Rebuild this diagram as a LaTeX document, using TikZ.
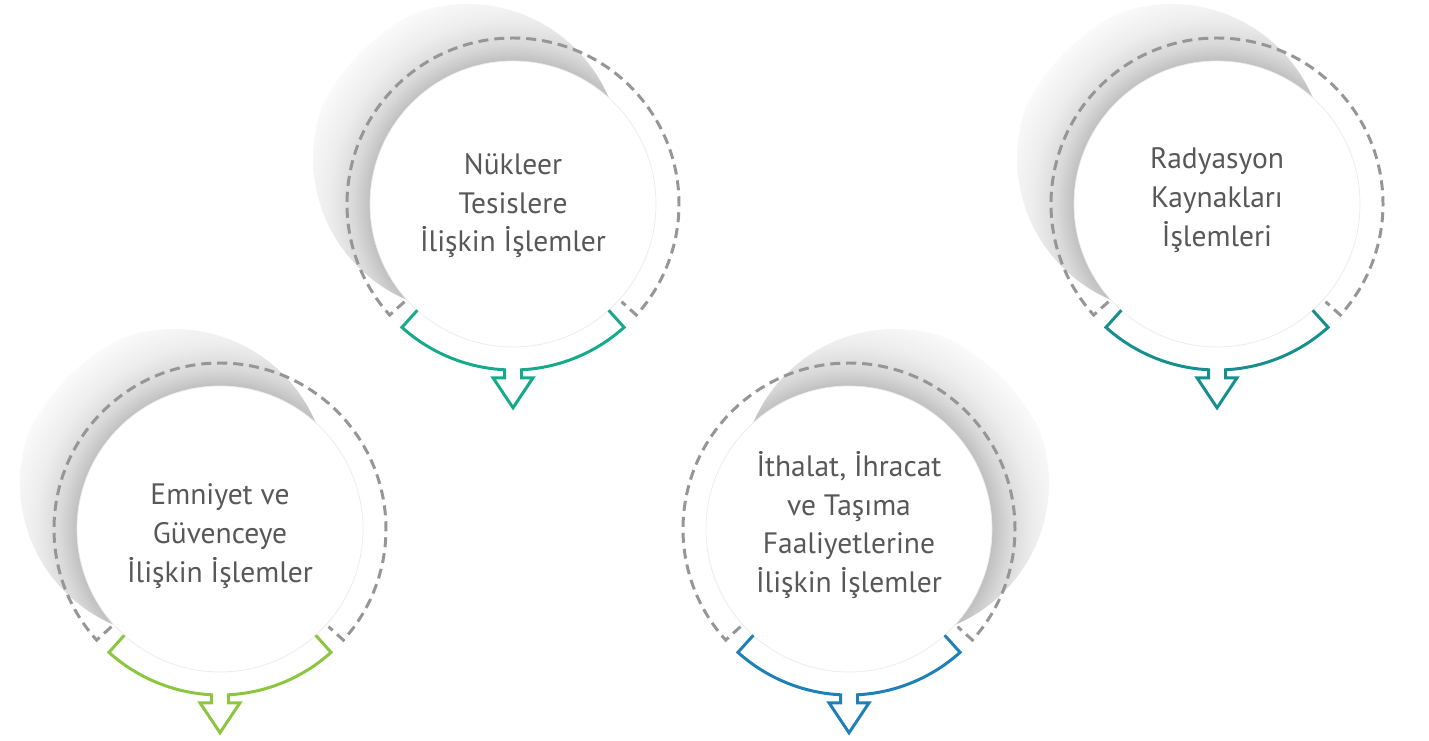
\documentclass[tikz,border=0pt]{standalone}
\usepackage{fontspec}
\setmainfont{PT Sans}
\usepackage{tikz}
\usetikzlibrary{positioning}

\definecolor{nukleerc}{RGB}{22,170,140}
\definecolor{emniyetc}{RGB}{140,198,63}
\definecolor{ithalatc}{RGB}{30,128,184}
\definecolor{radyasyonc}{RGB}{23,143,143}
\definecolor{dashgray}{RGB}{150,150,150}
\definecolor{textgray}{RGB}{88,88,88}

% soft grey ring behind each circle
\pgfdeclareradialshading{ringshade}{\pgfpoint{0bp}{0bp}}{%
  color(0bp)=(black!25); color(16.6bp)=(black!25); color(18.6bp)=(black!15);
  color(21.5bp)=(black!7); color(25bp)=(black!2); color(26.7bp)=(white); color(50bp)=(white)}

\begin{document}
\begin{tikzpicture}[x=0.02cm, y=0.02cm]

\tikzset{
  % grey dashed outer ring
  dashring/.style={draw=dashgray, line width=1.7pt, dash pattern=on 5.7pt off 3.4pt},
  % white disc in the middle
  disc/.style={fill=white, draw=black!8, line width=0.4pt},
  % coloured bracket with the arrow below
  bracket/.style={draw=#1, line width=1.7pt, line join=miter},
  label/.style={text=textgray, align=center, font=\fontsize{16.8}{22}\selectfont},
}

\useasboundingbox (0,0) rectangle (1429,740);

\foreach \cx/\cy/\sx/\ty/\col/\nm/\txt in {
    513/536/-46/-1.6/nukleerc/nukleer/{Nükleer\\Tesislere\\İlişkin İşlemler},
    220/211/-46/-7/emniyetc/emniyet/{Emniyet ve\\Güvenceye\\İlişkin İşlemler},
    849/211/46/4/ithalatc/ithalat/{İthalat, İhracat\\ve Taşıma\\Faaliyetlerine\\İlişkin İşlemler},
    1217/536/-46/4/radyasyonc/radyasyon/{Radyasyon\\Kaynakları\\İşlemleri}}
{
  \begin{scope}[shift={(\cx,\cy)}]
    % shadow
    \begin{scope}
      \clip (\sx,46) circle (154);
      \shade[shading=ringshade] (0,0) circle (215);
    \end{scope}
    \draw[dashring] (222:146) -- (222:166)
      arc[start angle=222, end angle=-42, radius=166] -- (-42:146);
    \path[disc] (0,0) circle (143);
    \draw[bracket=\col] (-132:143) -- (-132:166)
      arc[start angle=-132, end angle=-92.93, radius=166]
      -- ++(0,-8) -- ++(-11.5,0) -- (0,-203.8) -- ++(20,30) -- ++(-11.5,0)
      -- (-87.07:166) arc[start angle=-87.07, end angle=-48, radius=166]
      -- (-48:143);
    \node[label] (\nm) at (0,\ty) {\txt};
  \end{scope}
}

\end{tikzpicture}
\end{document}
